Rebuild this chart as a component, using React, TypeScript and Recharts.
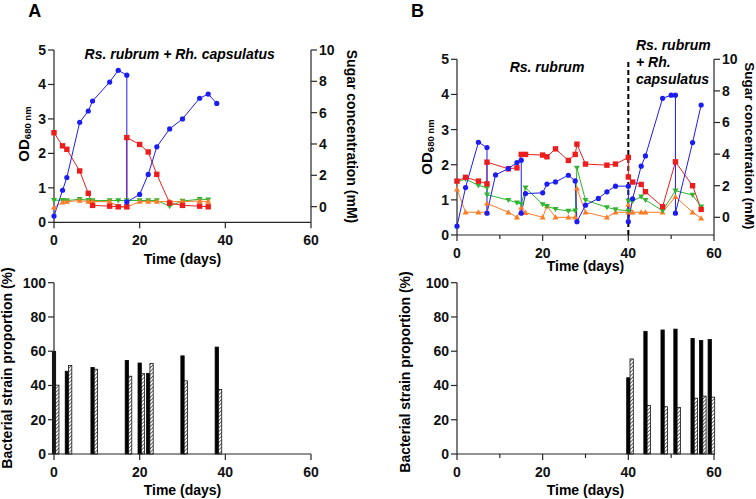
import React from "react";
import { LineChart, Line, BarChart, Bar, XAxis, YAxis, ReferenceLine } from "recharts";

// ---- A: Rs. rubrum + Rh. capsulatus, growth (OD) and sugars (mM) ----
const odDaysA = [0, 2, 3, 6, 8, 9, 13, 15, 17, 17, 20, 22, 24, 27, 30, 34, 36, 38];
const odA = [0.18, 0.93, 1.3, 2.9, 3.23, 3.52, 4.07, 4.41, 4.27, 0.59, 0.81, 1.39, 2.19, 2.71, 3.0, 3.6, 3.72, 3.45];
const redDaysA = [0, 2, 3, 6, 8, 9, 13, 15, 17, 17, 20, 22, 24, 27, 30, 34, 36];
const redA = [4.72, 3.88, 3.66, 2.28, 0.85, 0.08, 0.03, -0.01, -0.01, 4.41, 3.97, 3.49, 2.06, 0.23, 0.08, 0.03, -0.01];
const sugarDaysA = [0, 2, 3, 6, 8, 9, 13, 15, 17, 20, 22, 24, 27, 30, 34, 36];
const greenA = [0.41, 0.41, 0.39, 0.47, 0.41, 0.39, 0.39, 0.39, 0.39, 0.39, 0.39, 0.39, 0.03, 0.36, 0.47, 0.45];
const orangeA = [-0.05, 0.28, 0.32, 0.39, 0.32, 0.32, 0.32, -0.01, -0.03, 0.32, 0.32, 0.32, 0.32, 0.32, 0.36, 0.32];

// ---- B: Rs. rubrum alone, then co-culture from day 40 ----
const odDaysB = [0, 2, 5, 7, 7, 9, 12, 14, 15, 15, 16, 20, 21, 23, 26, 27.6, 28, 30, 33, 35, 37, 40, 40, 41, 43, 44, 48, 50, 51, 51, 55, 57];
const odB = [0.25, 1.35, 2.64, 2.49, 0.62, 1.71, 1.89, 2.06, 2.13, 0.62, 1.18, 1.2, 1.45, 1.51, 1.7, 1.54, 0.38, 0.85, 1.04, 1.23, 1.39, 1.39, 0.38, 1.03, 1.96, 2.25, 3.89, 3.98, 3.98, 0.62, 2.63, 3.7];
const sugarDaysB = [0, 2, 5, 7, 7, 12, 14, 15, 16, 20, 21, 23, 26, 27.6, 28, 30, 35, 37, 40, 40, 41, 43, 44, 48, 51, 55, 57];
const redB = [2.29, 2.53, 2.29, 2.12, 3.49, 3.07, 3.13, 3.98, 3.98, 3.94, 3.83, 4.33, 3.6, 3.98, 4.63, 3.37, 3.3, 3.37, 3.79, 2.55, 2.23, 2.08, 1.62, 0.67, 3.51, 2.0, 0.5];
const greenB = [2.25, 2.42, 2.02, 1.87, 1.43, 1.09, 0.92, 0.84, 1.87, 0.82, 0.7, 0.52, 0.4, 0.42, 3.13, 1.09, 0.63, 0.5, 0.4, 1.03, 1.03, 1.3, 1.09, 0.42, 1.68, 1.41, 0.67];
const orangeB = [1.77, 0.32, 0.32, 0.32, 0.88, 0.32, 0.0, 0.63, 0.29, 0.0, 0.71, 0.0, 0.0, 0.0, 1.83, 0.32, 0.0, 0.32, 0.32, 0.8, 0.32, 0.32, 0.32, 0.32, 1.3, 0.32, -0.06];

// ---- strain proportions (%) ----
const barDaysA = [0, 3, 9, 17, 20, 22, 30, 38];
const rubrumPctA = [59.8, 48.3, 50.5, 54.6, 53.1, 47.1, 57.3, 62.4];
const capsulatusPctA = [40.2, 51.7, 49.5, 45.4, 46.9, 52.9, 42.7, 37.6];
const barDaysB = [40, 44, 48, 51, 55, 57, 59];
const rubrumPctB = [44.5, 71.6, 72.4, 72.9, 67.4, 66.2, 66.8];
const capsulatusPctB = [55.5, 28.4, 27.6, 27.1, 32.6, 33.8, 33.2];

const odTicks = [0, 1, 2, 3, 4, 5];
const sugarTicks = [0, 2, 4, 6, 8, 10];
const pctTicks = [0, 20, 40, 60, 80, 100];
const dayTicks = [0, 20, 40, 60];
const dayTicksMinor = [0, 10, 20, 30, 40, 50, 60];

const FONT = '"Liberation Sans", Arial, Helvetica, sans-serif';
const AXIS = "#262626";
const BLUE = "#1c1cf5";
const RED = "#ee1d1d";
const GREEN = "#2fb52f";
const ORANGE = "#ff7b24";
const BAR_W = 3.3;

const pts = (days: number[], vals: number[]) => days.map((day, i) => ({ day, v: vals[i] }));

const tickStyle = { fill: "#111", fontSize: 14, fontWeight: 700, fontFamily: FONT };

const circleDot = (color: string) => (p: any) => (
  <circle key={p.key} cx={p.cx} cy={p.cy} r={2.6} fill={color} />
);
const squareDot = (color: string) => (p: any) => (
  <rect key={p.key} x={p.cx - 2.7} y={p.cy - 2.7} width={5.4} height={5.4} fill={color} />
);
const triDownDot = (color: string) => (p: any) => (
  <path key={p.key} d={`M${p.cx - 3},${p.cy - 2.2}L${p.cx + 3},${p.cy - 2.2}L${p.cx},${p.cy + 3}Z`} fill={color} />
);
const triUpDot = (color: string) => (p: any) => (
  <path key={p.key} d={`M${p.cx - 3},${p.cy + 2.2}L${p.cx + 3},${p.cy + 2.2}L${p.cx},${p.cy - 3}Z`} fill={color} />
);

// day axis tick: labelled major ticks every 20, short unlabelled minor ticks
const DayTick = (props: any) => {
  const { x, y, payload } = props;
  const major = payload.value % 20 === 0;
  return (
    <g>
      <line x1={x} y1={y} x2={x} y2={y + (major ? 6 : 4)} stroke={AXIS} strokeWidth={1.2} />
      {major && (
        <text x={x} y={y + 23} textAnchor="middle" {...tickStyle}>
          {payload.value}
        </text>
      )}
    </g>
  );
};

// paired bars: rubrum centred on the sampling day, capsulatus right beside it
const barShape = (fill: string, stroke: string) => (p: any) => (
  <rect
    x={p.x + p.width / 2}
    y={p.y}
    width={p.width}
    height={p.height}
    fill={fill}
    stroke={stroke}
    strokeWidth={0.8}
  />
);

const axisLine = { stroke: AXIS, strokeWidth: 1.2 };

function TopA() {
  return (
    <LineChart width={378} height={280} margin={{ top: 50, right: 27, bottom: 27.7, left: 14 }}>
      <XAxis type="number" dataKey="day" domain={[0, 60]} ticks={dayTicks} interval={0} height={30}
        tickSize={0} tickMargin={0} tickLine={false} axisLine={axisLine} tick={<DayTick />} />
      <YAxis yAxisId="od" domain={[0, 5]} ticks={odTicks} width={40} axisLine={axisLine}
        tickLine={axisLine} tick={tickStyle} interval={0} />
      <YAxis yAxisId="sugar" orientation="right" domain={[-1, 10]} ticks={sugarTicks} width={40}
        axisLine={axisLine} tickLine={axisLine} tick={tickStyle} interval={0} />
      <Line yAxisId="sugar" data={pts(sugarDaysA, greenA)} dataKey="v" stroke={GREEN} strokeWidth={1}
        dot={triDownDot(GREEN)} activeDot={false} isAnimationActive={false} />
      <Line yAxisId="sugar" data={pts(sugarDaysA, orangeA)} dataKey="v" stroke={ORANGE} strokeWidth={1}
        dot={triUpDot(ORANGE)} activeDot={false} isAnimationActive={false} />
      <Line yAxisId="sugar" data={pts(redDaysA, redA)} dataKey="v" stroke={RED} strokeWidth={1}
        dot={squareDot(RED)} activeDot={false} isAnimationActive={false} />
      <Line yAxisId="od" data={pts(odDaysA, odA)} dataKey="v" stroke={BLUE} strokeWidth={1}
        dot={circleDot(BLUE)} activeDot={false} isAnimationActive={false} />
    </LineChart>
  );
}

function TopB() {
  return (
    <LineChart width={378} height={280} margin={{ top: 59.3, right: 2, bottom: 15, left: 39 }}>
      <XAxis type="number" dataKey="day" domain={[0, 60]} ticks={dayTicksMinor} interval={0} height={30}
        tickSize={0} tickMargin={0} tickLine={false} axisLine={axisLine} tick={<DayTick />} />
      <YAxis yAxisId="od" domain={[0, 5]} ticks={odTicks} width={40} axisLine={axisLine}
        tickLine={axisLine} tick={tickStyle} interval={0} />
      <YAxis yAxisId="sugar" orientation="right" domain={[-1.12, 10]} ticks={sugarTicks} width={40}
        axisLine={axisLine} tickLine={axisLine} tick={tickStyle} interval={0} />
      <ReferenceLine yAxisId="od" x={40} stroke="#000" strokeWidth={2} strokeDasharray="5 3" />
      <Line yAxisId="sugar" data={pts(sugarDaysB, orangeB)} dataKey="v" stroke={ORANGE} strokeWidth={1}
        dot={triUpDot(ORANGE)} activeDot={false} isAnimationActive={false} />
      <Line yAxisId="sugar" data={pts(sugarDaysB, greenB)} dataKey="v" stroke={GREEN} strokeWidth={1}
        dot={triDownDot(GREEN)} activeDot={false} isAnimationActive={false} />
      <Line yAxisId="sugar" data={pts(sugarDaysB, redB)} dataKey="v" stroke={RED} strokeWidth={1}
        dot={squareDot(RED)} activeDot={false} isAnimationActive={false} />
      <Line yAxisId="od" data={pts(odDaysB, odB)} dataKey="v" stroke={BLUE} strokeWidth={1}
        dot={circleDot(BLUE)} activeDot={false} isAnimationActive={false} />
    </LineChart>
  );
}

function Proportions({ days, rubrum, capsulatus, ticks, margin }: any) {
  const data = days.map((day: number, i: number) => ({ day, rubrum: rubrum[i], capsulatus: capsulatus[i] }));
  return (
    <BarChart width={378} height={239} data={data} margin={margin} barGap={0}>
      <XAxis type="number" dataKey="day" domain={[0, 60]} ticks={ticks} interval={0} height={30}
        tickSize={0} tickMargin={0} tickLine={false} axisLine={axisLine} tick={<DayTick />} />
      <YAxis domain={[0, 100]} ticks={pctTicks} width={40} axisLine={axisLine}
        tickLine={axisLine} tick={tickStyle} interval={0} />
      <Bar dataKey="rubrum" barSize={BAR_W} shape={barShape("#000", "#000")} isAnimationActive={false} />
      <Bar dataKey="capsulatus" barSize={BAR_W} shape={barShape("url(#hatch)", "#111")} isAnimationActive={false} />
    </BarChart>
  );
}

const boldText = { fontFamily: FONT, fontWeight: 700, fill: "#000" } as const;

export default function App() {
  return (
    <div style={{ position: "absolute", left: 0, top: 0, width: 756, height: 499, background: "#fff", overflow: "hidden" }}>
      <svg width={0} height={0} style={{ position: "absolute" }}>
        <defs>
          <pattern id="hatch" width={2.6} height={2.6} patternUnits="userSpaceOnUse" patternTransform="rotate(45)">
            <rect width={2.6} height={2.6} fill="#fff" />
            <line x1={0} y1={0} x2={0} y2={2.6} stroke="#222" strokeWidth={1.3} />
          </pattern>
        </defs>
      </svg>
      <div style={{ position: "absolute", left: 0, top: 0 }}>
        <TopA />
      </div>
      <div style={{ position: "absolute", left: 378, top: 0 }}>
        <TopB />
      </div>
      <div style={{ position: "absolute", left: 0, top: 260 }}>
        <Proportions days={barDaysA} rubrum={rubrumPctA} capsulatus={capsulatusPctA} ticks={dayTicks}
          margin={{ top: 22.7, right: 67, bottom: 15, left: 14 }} />
      </div>
      <div style={{ position: "absolute", left: 378, top: 260 }}>
        <Proportions days={barDaysB} rubrum={rubrumPctB} capsulatus={capsulatusPctB} ticks={dayTicksMinor}
          margin={{ top: 22.7, right: 42, bottom: 15, left: 39 }} />
      </div>

      {/* panel letters, titles and axis captions */}
      <svg width={756} height={499} style={{ position: "absolute", left: 0, top: 0, pointerEvents: "none" }}>
        <text x={28.3} y={17} fontSize={18} {...boldText}>A</text>
        <text x={411} y={17} fontSize={18} {...boldText}>B</text>

        <text x={179.7} y={59} fontSize={14} fontStyle="italic" textAnchor="middle" {...boldText}>
          Rs. rubrum + Rh. capsulatus
        </text>
        <text x={547} y={71.5} fontSize={14} fontStyle="italic" textAnchor="middle" {...boldText}>Rs. rubrum</text>
        <text x={636} y={49.5} fontSize={14} fontStyle="italic" {...boldText}>Rs. rubrum</text>
        <text x={636} y={66.5} fontSize={14} fontStyle="italic" {...boldText}>+ Rh.</text>
        <text x={636} y={83.5} fontSize={14} fontStyle="italic" {...boldText}>capsulatus</text>

        <text x={28.5} y={134} transform="rotate(-90 28.5 134)" textAnchor="middle" fontSize={15} {...boldText}>
          OD<tspan fontSize={9.5} dy={2.5}>680 nm</tspan>
        </text>
        <text x={431.5} y={147} transform="rotate(-90 431.5 147)" textAnchor="middle" fontSize={15} {...boldText}>
          OD<tspan fontSize={9.5} dy={2.5}>680 nm</tspan>
        </text>

        <text x={346.5} y={136.5} transform="rotate(90 346.5 136.5)" textAnchor="middle" fontSize={14} {...boldText}>
          Sugar concentration (mM)
        </text>
        <text x={744.5} y={146} transform="rotate(90 744.5 146)" textAnchor="middle" fontSize={13.5} {...boldText}>
          Sugar concentration (mM)
        </text>

        <text x={12} y={368} transform="rotate(-90 12 368)" textAnchor="middle" fontSize={14} {...boldText}>
          Bacterial strain proportion (%)
        </text>
        <text x={410} y={372} transform="rotate(-90 410 372)" textAnchor="middle" fontSize={14} {...boldText}>
          Bacterial strain proportion (%)
        </text>

        <text x={182.5} y={263.5} textAnchor="middle" fontSize={14} {...boldText}>Time (days)</text>
        <text x={585.5} y={271} textAnchor="middle" fontSize={14} {...boldText}>Time (days)</text>
        <text x={182.5} y={495} textAnchor="middle" fontSize={14} {...boldText}>Time (days)</text>
        <text x={585.5} y={495} textAnchor="middle" fontSize={14} {...boldText}>Time (days)</text>
      </svg>
    </div>
  );
}
